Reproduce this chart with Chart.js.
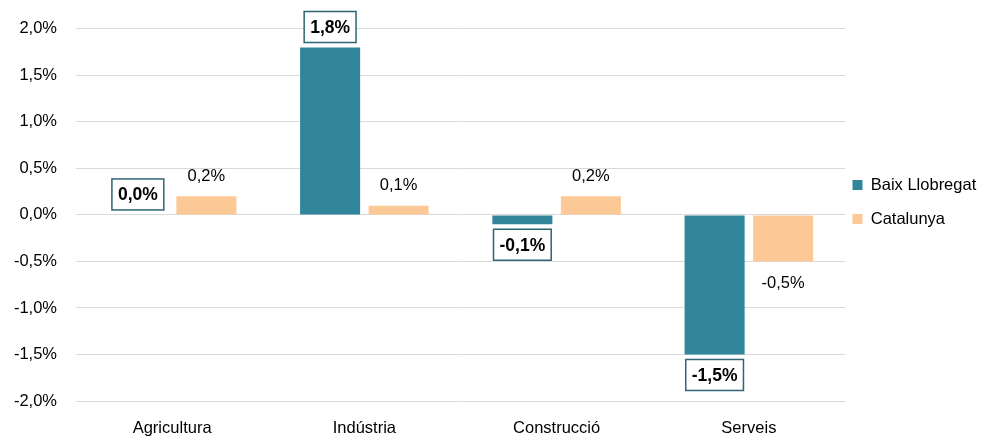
<!DOCTYPE html>
<html>
<head>
<meta charset="utf-8">
<script src="https://cdn.jsdelivr.net/npm/chart.js@4.4.1/dist/chart.umd.min.js"></script>
<style>
html,body{margin:0;padding:0;background:#fff;}
#wrap{width:983px;height:439px;position:relative;}
</style>
</head>
<body>
<div id="wrap"><canvas id="c" width="983" height="439"></canvas></div>
<script>
const categories = ["Agricultura", "Indústria", "Construcció", "Serveis"];
const baixLlobregat = [0.0, 1.8, -0.1, -1.5];
const catalunya = [0.2, 0.1, 0.2, -0.5];
const seriesNames = ["Baix Llobregat", "Catalunya"];

const FONT = "'Liberation Sans', Arial, sans-serif";
const fmt = v => Number(v).toFixed(1).replace('.', ',') + '%';

const labelPlugin = {
  id: 'valueLabels',
  afterLayout(chart) {
    // nudge legend to sit as in the reference
    const lg = chart.legend;
    if (lg) { lg.top -= 27; lg.bottom -= 27; lg.left -= 10; lg.width += 10; }
  },
  afterDatasetsDraw(chart) {
    const ctx = chart.ctx;
    chart.data.datasets.forEach((ds, di) => {
      const meta = chart.getDatasetMeta(di);
      meta.data.forEach((bar, i) => {
        const v = ds.data[i];
        const txt = fmt(v);
        const x = bar.x;
        const neg = v < 0;
        ctx.save();
        if (di === 0) {
          ctx.font = "bold 17.5px " + FONT;
          const w = ctx.measureText(txt).width + 12;
          const h = 31;
          const top = neg ? bar.y + 5 : bar.y - 5 - h;
          ctx.fillStyle = '#fff';
          ctx.fillRect(x - w / 2, top, w, h);
          ctx.strokeStyle = '#2E6473';
          ctx.lineWidth = 1.5;
          ctx.strokeRect(x - w / 2, top, w, h);
          ctx.fillStyle = '#000';
          ctx.textAlign = 'center';
          ctx.textBaseline = 'middle';
          ctx.fillText(txt, x, top + h / 2 + 1);
        } else {
          ctx.font = "16.5px " + FONT;
          ctx.fillStyle = '#000';
          ctx.textAlign = 'center';
          ctx.textBaseline = 'middle';
          const cy = neg ? bar.y + 22 : bar.y - 20;
          ctx.fillText(txt, x, cy);
        }
        ctx.restore();
      });
    });
  }
};

new Chart(document.getElementById('c'), {
  type: 'bar',
  data: {
    labels: categories,
    datasets: [
      { label: seriesNames[0], data: baixLlobregat, backgroundColor: '#31869B', borderWidth: 0 },
      { label: seriesNames[1], data: catalunya, backgroundColor: '#FCC996', borderWidth: 0 }
    ]
  },
  options: {
    responsive: false,
    animation: false,
    datasets: { bar: { categoryPercentage: 0.713, barPercentage: 0.876 } },
    layout: { padding: { top: 19, right: 0, bottom: 0, left: 0 } },
    plugins: {
      legend: {
        position: 'right',
        align: 'center',
        maxWidth: 138,
        labels: {
          boxWidth: 10, boxHeight: 10, padding: 17.5,
          color: '#000',
          font: { family: FONT, size: 16.5 }
        }
      },
      tooltip: { enabled: false }
    },
    scales: {
      x: {
        afterFit: s => { s.height = 38; },
        grid: { display: false, drawTicks: false },
        border: { display: false },
        ticks: { color: '#000', padding: 18, font: { family: FONT, size: 16.5 } }
      },
      y: {
        min: -2, max: 2,
        afterFit: s => { s.width = 76; },
        grid: { color: '#D9D9D9', drawTicks: false, lineWidth: 1 },
        border: { display: false },
        ticks: {
          stepSize: 0.5, padding: 19, color: '#000',
          font: { family: FONT, size: 16.5 },
          callback: v => fmt(v)
        }
      }
    }
  },
  plugins: [labelPlugin]
});
</script>
</body>
</html>
